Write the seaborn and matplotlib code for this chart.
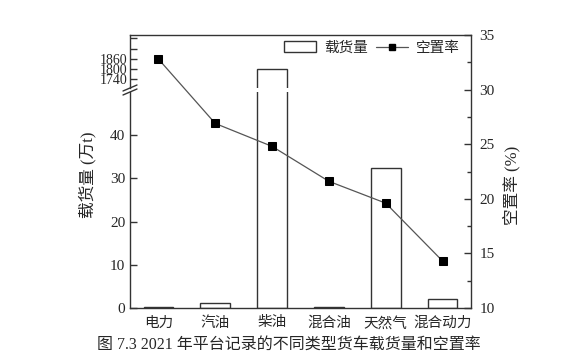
import numpy as np
import pandas as pd
import matplotlib.pyplot as plt
import seaborn as sns
from matplotlib.patches import Patch
from matplotlib.lines import Line2D

# 数据
categories = ['电力', '汽油', '柴油', '混合油', '天然气', '混合动力']
load_wt = [0.2, 1.2, 1800, 0.3, 32.3, 2.0]          # 载货量 (万t)
vacancy = [32.8, 26.9, 24.8, 21.6, 19.6, 14.3]      # 空置率 (%)
top_ticks = [1740, 1800, 1860]
bot_ticks = [0, 10, 20, 30, 40]
right_ticks = [10, 15, 20, 25, 30, 35]

df = pd.DataFrame({'cat': categories, 'load': load_wt, 'vac': vacancy})

sns.set_theme(style='ticks')
plt.rcParams['font.family'] = ['Liberation Serif', 'Noto Sans CJK SC']
plt.rcParams['xtick.direction'] = 'in'
plt.rcParams['ytick.direction'] = 'in'

fig = plt.figure(figsize=(5.73, 3.64), dpi=100)
W, H = 573, 364
x0, x1 = 130 / W, 471 / W
ax_bot = fig.add_axes([x0, (H - 308) / H, x1 - x0, (308 - 92) / H])
ax_top = fig.add_axes([x0, (H - 88) / H, x1 - x0, (88 - 35) / H])
ax_r = fig.add_axes([x0, (H - 308) / H, x1 - x0, (308 - 35) / H])
ax_r.patch.set_visible(False)

edge = '#333333'
for ax in (ax_bot, ax_top):
    sns.barplot(data=df, x='cat', y='load', ax=ax, color='white',
                edgecolor=edge, linewidth=1.0, width=0.52, saturation=1)
    ax.set_xlim(-0.5, 5.5)
    ax.set_xlabel('')
    ax.set_ylabel('')
    ax.spines['right'].set_visible(False)
    for s in ax.spines.values():
        s.set_color(edge)
        s.set_linewidth(1.0)

ax_bot.set_ylim(0, 50)
ax_bot.set_yticks(bot_ticks)
ax_bot.spines['top'].set_visible(False)
ax_bot.tick_params(axis='x', length=0, labelsize=10.5, pad=6)
ax_bot.tick_params(axis='y', length=5, labelsize=11, width=1, color=edge)

top_all = [1740, 1800, 1860, 1920, 1980]
ax_top.set_ylim(1690, 2000)
ax_top.set_yticks(top_all)
ax_top.set_yticklabels([str(t) if t in top_ticks else '' for t in top_all])
ax_top.spines['bottom'].set_visible(False)
ax_top.tick_params(axis='x', bottom=False, labelbottom=False)
ax_top.tick_params(axis='y', length=5, labelsize=10, width=1, color=edge, pad=2)

# 右轴: 空置率
sns.lineplot(data=df, x=np.arange(len(categories)), y='vac', ax=ax_r,
             color='#555555', linewidth=0.9, marker='s', markersize=5.5,
             markerfacecolor='black', markeredgecolor='black')
ax_r.set_xlim(-0.5, 5.5)
ax_r.set_ylim(10, 35)
ax_r.set_yticks(right_ticks)
ax_r.set_yticks(np.arange(12.5, 35, 5), minor=True)
ax_r.yaxis.tick_right()
ax_r.set_xticks([])
ax_r.set_xlabel('')
ax_r.set_ylabel('')
for k in ('left', 'top', 'bottom'):
    ax_r.spines[k].set_visible(False)
ax_r.spines['right'].set_color(edge)
ax_r.spines['right'].set_linewidth(1.0)
ax_r.tick_params(axis='y', which='major', length=5, labelsize=11, width=1, color=edge, pad=6)
ax_r.tick_params(axis='y', which='minor', length=3, width=1, color=edge)

# 断轴标记
for dy in (0, 4):
    yc = (H - 88 - dy) / H
    fig.add_artist(Line2D([x0 - 7 / W, x0 + 7 / W], [yc - 3 / H, yc + 3 / H],
                          color=edge, linewidth=1.0))

# 轴标题
fig.text(88 / W, (H - 175) / H, '载货量 (万t)', rotation=90, ha='center', va='center', fontsize=12)
fig.text(512 / W, (H - 185) / H, '空置率 (%)', rotation=90, ha='center', va='center', fontsize=12)

# 图例
handles = [Patch(facecolor='white', edgecolor=edge, linewidth=1.0),
           Line2D([], [], color='#555555', linewidth=0.9, marker='s', markersize=5,
                  markerfacecolor='black', markeredgecolor='black')]
fig.legend(handles, ['载货量', '空置率'], loc='center', bbox_to_anchor=(372 / W, (H - 48) / H),
           ncol=2, frameon=False, fontsize=10.5, handlelength=2.2, handletextpad=0.5,
           columnspacing=0.6)

# 图题
fig.text(289 / W, (H - 345) / H, '图 7.3 2021 年平台记录的不同类型货车载货量和空置率',
         ha='center', va='center', fontsize=11.5)

plt.savefig('out.png', dpi=100)
